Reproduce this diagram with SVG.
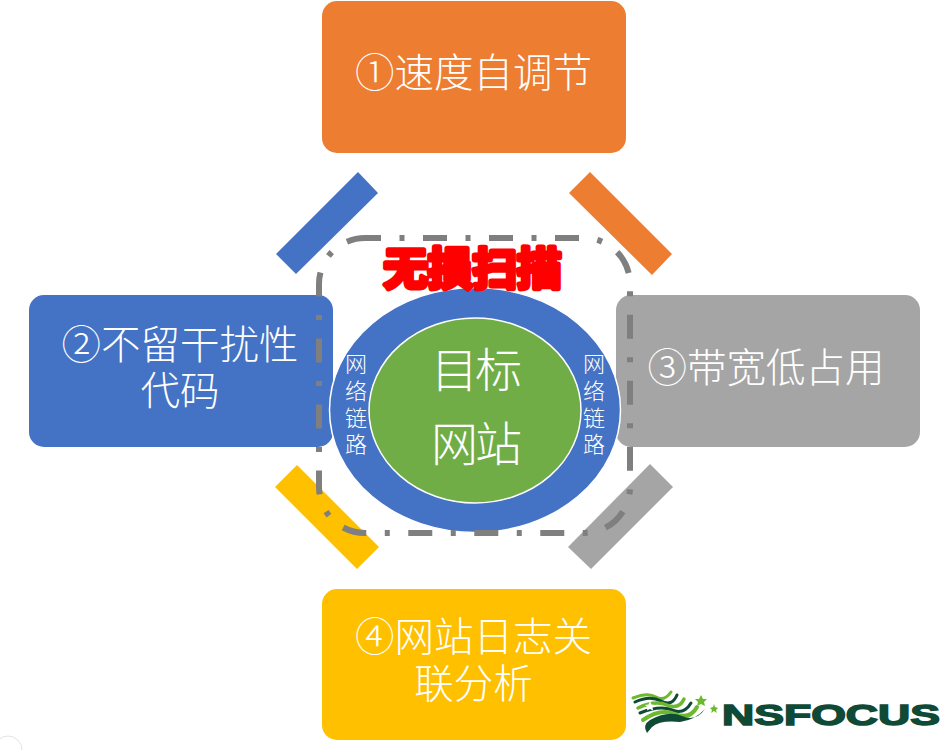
<svg xmlns="http://www.w3.org/2000/svg" width="947" height="750" viewBox="0 0 947 750">
<style>
text{font-family:"Noto Sans CJK SC","Noto Sans CJK JP",sans-serif;fill:#fff;text-anchor:middle}
.b{font-size:39.500px;font-weight:300}
.c{font-size:47px;font-weight:300;letter-spacing:-3px}
.l{font-size:22px;font-weight:300}
.w{fill:none;stroke-linecap:round}
.dg{stroke:#0f4a36}.lg{stroke:#6cb82e}
.star{fill:#6cb82e}
</style>
<rect width="947" height="750" fill="#fff"/>
<g id="bars">
<polygon points="358,172 378,193 296,274 276,254" fill="#4472c4"/>
<polygon points="590,172 569,193 652,275 672,254" fill="#ed7d31"/>
<polygon points="297,465 275,487 357,569 379,547" fill="#ffc000"/>
<polygon points="650,464 673,487 591,569 568,547" fill="#a5a5a5"/>
</g>
<g id="node-speed"><rect x="322" y="1" width="304" height="152" rx="15" fill="#ed7d31"/><text class="b" x="473.500" y="87">①速度自调节</text></g>
<g id="node-code"><rect x="29" y="295" width="304" height="152" rx="15" fill="#4472c4"/><text class="b" x="180" y="359">②不留干扰性<tspan x="180" dy="46">代码</tspan></text></g>
<g id="node-bandwidth"><rect x="616" y="295" width="304" height="152" rx="15" fill="#a5a5a5"/><text class="b" x="766" y="382">③带宽低占用</text></g>
<g id="node-log"><rect x="322" y="589" width="304" height="151" rx="15" fill="#ffc000"/><text class="b" x="473.500" y="651">④网站日志关<tspan x="473.500" dy="47">联分析</tspan></text></g>
<g id="node-link"><ellipse cx="475" cy="410" rx="145.500" ry="122.500" fill="#4472c4" stroke="#fff" stroke-width="1.500"/>
<text class="l" x="356" y="372">网<tspan x="356" dy="27">络</tspan><tspan x="356" dy="27">链</tspan><tspan x="356" dy="26">路</tspan></text>
<text class="l" x="594" y="372">网<tspan x="594" dy="27">络</tspan><tspan x="594" dy="27">链</tspan><tspan x="594" dy="26">路</tspan></text></g>
<g id="node-target"><ellipse cx="475" cy="410.500" rx="106" ry="92.500" fill="#70ad47" stroke="#fff" stroke-width="1.500"/>
<text class="c" x="475" y="387">目标<tspan x="475" dy="74">网站</tspan></text></g>
<g id="connectors"><path d="M365 238H584A46 46 0 0 1 630 284V487A46 46 0 0 1 584 533H365A46 46 0 0 1 319 487V284A46 46 0 0 1 365 238" fill="none" stroke="#7f7f7f" stroke-width="6" stroke-dasharray="24 18.500 5 18.500" stroke-dashoffset="8"/></g>
<g id="title"><text x="472.500" y="285" style="fill:#f00;stroke:#f00;stroke-width:5;stroke-linejoin:round;font-size:44.500px;font-weight:700">无损扫描</text></g>
<g id="logo">
<path class="w lg" stroke-width="3" d="M633 698Q648 692 656 697T671 692"/>
<path class="w dg" stroke-width="3" d="M635 702Q650 695 661 701T677 695"/>
<path class="w lg" stroke-width="3.500" d="M638 708Q655 700 667 705T684 699"/>
<path class="w dg" stroke-width="3" d="M640 713Q660 705 672 710T691 703"/>
<path class="w lg" stroke-width="4" d="M643 720Q660 708 675 714T697 707"/>
<path d="M647 733Q642 725 650 720Q668 710 682 716T705 709Q695 720 680 722Q660 720 652 727Z" fill="#0f4a36"/>
<polygon points="650,701 651.500,704.500 655,705 652.500,707 653,710.500 650,709 647,710.500 647.500,707 645,705 648.500,704.500" fill="#fff"/>
<polygon class="star" points="701,695 703,699 707,699 704,702 705,706 701,704 697,706 698,702 695,699 699,699"/>
<polygon class="star" points="714,704 715,707 718,708 716,710 717,713 714,711 711,713 712,710 710,708 713,707"/>
<text x="831" y="725" textLength="218" lengthAdjust="spacingAndGlyphs" style="fill:#0f4a36;stroke:#0f4a36;stroke-width:1.500;font-family:'Liberation Sans',sans-serif;font-weight:700;font-size:30px">NSFOCUS</text>
</g>
<circle cx="8" cy="750" r="14" fill="none" stroke="#e4e4e4"/>
</svg>
